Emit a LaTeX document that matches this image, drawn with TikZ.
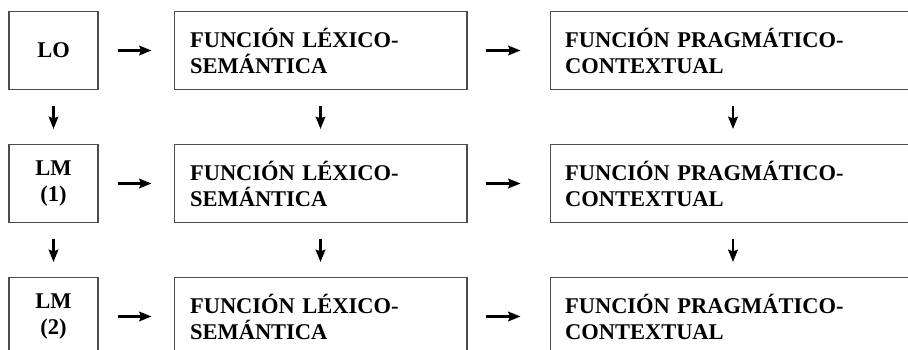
\documentclass[tikz,border=0pt]{standalone}
\usepackage{fontspec}
\setmainfont{Liberation Serif}
\usetikzlibrary{arrows.meta}

\begin{document}
\begin{tikzpicture}[
    x=0.02cm, y=-0.02cm,
    box/.style={rectangle, draw=black!70, line width=0.6pt, minimum height=1.56cm, inner ysep=2pt, font=\fontsize{12.8}{14.8}\selectfont\bfseries},
    lang/.style={box, minimum width=1.78cm, align=center, inner xsep=2pt},
    lexbox/.style={box, text width=5.22cm, inner xsep=0.32cm, align=left},
    pragbox/.style={box, text width=6.72cm, inner xsep=0.30cm, align=left},
    arrow/.style={-{Stealth[length=7pt, width=5.5pt, inset=1pt]}, line width=1.2pt},
    harrow/.style={arrow, shorten <=0.38cm, shorten >=0.44cm},
    varrow/.style={arrow, shorten <=0.32cm, shorten >=0.30cm}
]

% Frame (page size, last row runs off the bottom)
\clip (0,0) rectangle (908,350);

% Row 1
\node[lang] (lo) at (53.5, 50.5) {LO};
\node[lexbox] (lex_lo) at (320.5, 50.5) {FUNCIÓN LÉXICO-\\SEMÁNTICA};
\node[pragbox] (prag_lo) at (733, 50.5) {FUNCIÓN PRAGMÁTICO-\\CONTEXTUAL};

% Row 2
\node[lang] (lm1) at (53.5, 183.5) {LM\\(1)};
\node[lexbox] (lex_lm1) at (320.5, 183.5) {FUNCIÓN LÉXICO-\\SEMÁNTICA};
\node[pragbox] (prag_lm1) at (733, 183.5) {FUNCIÓN PRAGMÁTICO-\\CONTEXTUAL};

% Row 3
\node[lang] (lm2) at (53.5, 316.5) {LM\\(2)};
\node[lexbox] (lex_lm2) at (320.5, 316.5) {FUNCIÓN LÉXICO-\\SEMÁNTICA};
\node[pragbox] (prag_lm2) at (733, 316.5) {FUNCIÓN PRAGMÁTICO-\\CONTEXTUAL};

% Horizontal arrows
\draw[harrow] (lo) -- (lex_lo);
\draw[harrow, shorten <=0.36cm, shorten >=0.58cm] (lex_lo) -- (prag_lo);
\draw[harrow] (lm1) -- (lex_lm1);
\draw[harrow, shorten <=0.36cm, shorten >=0.58cm] (lex_lm1) -- (prag_lm1);
\draw[harrow] (lm2) -- (lex_lm2);
\draw[harrow, shorten <=0.36cm, shorten >=0.58cm] (lex_lm2) -- (prag_lm2);

% Vertical arrows
\draw[varrow] (lo) -- (lm1);
\draw[varrow] (lex_lo) -- (lex_lm1);
\draw[varrow] (prag_lo) -- (prag_lm1);
\draw[varrow] (lm1) -- (lm2);
\draw[varrow] (lex_lm1) -- (lex_lm2);
\draw[varrow] (prag_lm1) -- (prag_lm2);

\end{tikzpicture}
\end{document}
